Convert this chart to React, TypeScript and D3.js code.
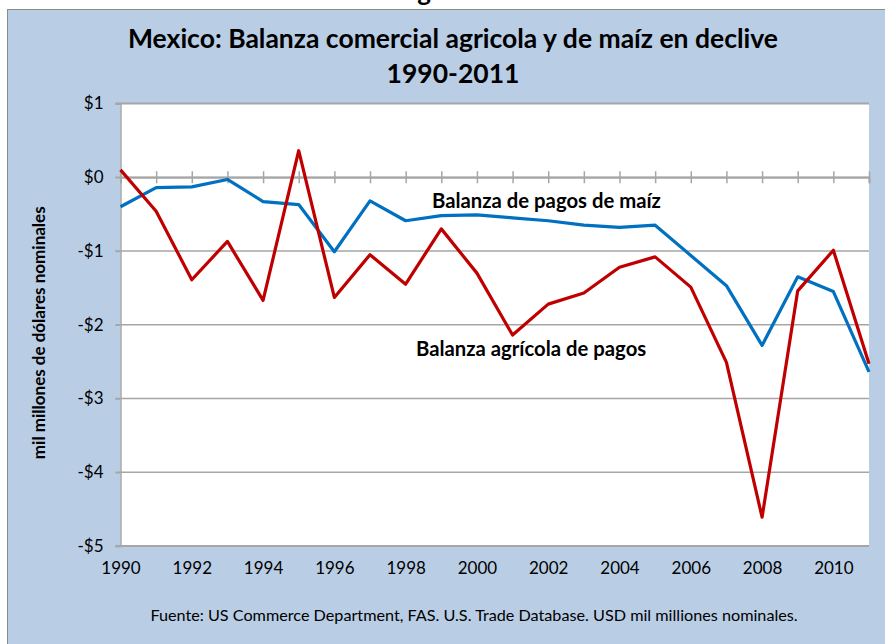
import { useEffect, useRef } from 'react'
import * as d3 from 'd3'

const YEARS = [
  1990, 1991, 1992, 1993, 1994, 1995, 1996, 1997, 1998, 1999, 2000,
  2001, 2002, 2003, 2004, 2005, 2006, 2007, 2008, 2009, 2010, 2011,
]

// balanza de pagos de maíz (mil millones USD)
const MAIZ_BALANCE = [
  -0.4, -0.14, -0.13, -0.03, -0.33, -0.37, -1.01, -0.32, -0.59, -0.52, -0.51,
  -0.55, -0.59, -0.65, -0.68, -0.65, -1.06, -1.47, -2.28, -1.35, -1.55, -2.64,
]

// balanza agrícola de pagos
const AGRI_BALANCE = [
  0.1, -0.46, -1.39, -0.87, -1.67, 0.36, -1.63, -1.05, -1.45, -0.7, -1.3,
  -2.14, -1.72, -1.57, -1.22, -1.08, -1.49, -2.51, -4.61, -1.54, -0.99, -2.53,
]

const Y_TICKS = [1, 0, -1, -2, -3, -4, -5]
const X_LABELS = [1990, 1992, 1994, 1996, 1998, 2000, 2002, 2004, 2006, 2008, 2010]

const WIDTH = 885
const HEIGHT = 644
const PLOT = { left: 120.5, right: 869, top: 103.5, bottom: 546 }
const FONT = 'Lato, "Open Sans", sans-serif'

interface Point {
  year: number
  value: number
}

export default function App() {
  const svgRef = useRef<SVGSVGElement | null>(null)

  useEffect(() => {
    if (!svgRef.current) {
      return
    }

    const svg = d3.select(svgRef.current)
    svg.selectAll('*').remove()

    const x = d3.scaleLinear().domain([1990, 2011]).range([PLOT.left, PLOT.right])
    const y = d3.scaleLinear().domain([-5, 1]).range([PLOT.bottom, PLOT.top])
    const fmt = (v: number) => (v < 0 ? `-$${-v}` : `$${v}`)

    svg.append('rect').attr('width', WIDTH).attr('height', HEIGHT).attr('fill', '#ffffff')

    // cut-off heading glyph above the chart frame (as in the source image)
    svg
      .append('text')
      .attr('x', 424)
      .attr('y', 1)
      .attr('text-anchor', 'middle')
      .attr('font-family', FONT)
      .attr('font-weight', 700)
      .attr('font-size', 26)
      .attr('fill', '#000')
      .text('g')

    svg
      .append('rect')
      .attr('x', 7.5)
      .attr('y', 9.5)
      .attr('width', WIDTH + 20)
      .attr('height', HEIGHT + 20)
      .attr('fill', '#b9cde5')
      .attr('stroke', '#8a8a8a')
      .attr('stroke-width', 1)

    svg
      .append('rect')
      .attr('x', PLOT.left)
      .attr('y', PLOT.top)
      .attr('width', PLOT.right - PLOT.left)
      .attr('height', PLOT.bottom - PLOT.top)
      .attr('fill', '#ffffff')

    // title
    const title = svg
      .append('text')
      .attr('text-anchor', 'middle')
      .attr('font-family', FONT)
      .attr('font-weight', 700)
      .attr('font-size', 26.5)
      .attr('fill', '#000')
    title.append('tspan').attr('x', 453).attr('y', 48).text('Mexico: Balanza comercial agricola y de maíz en declive')
    title.append('tspan').attr('x', 453).attr('y', 83).text('1990-2011')

    // gridlines
    svg
      .append('g')
      .selectAll('line')
      .data(Y_TICKS)
      .enter()
      .append('line')
      .attr('x1', PLOT.left - 5)
      .attr('x2', PLOT.right)
      .attr('y1', (d: number) => y(d))
      .attr('y2', (d: number) => y(d))
      .attr('stroke', '#a6a6a6')
      .attr('stroke-width', (d: number) => (d === 1 || d === -5 ? 2 : 1.5))

    // y axis
    const yAxis = svg
      .append('g')
      .attr('transform', `translate(${PLOT.left},0)`)
      .call(d3.axisLeft(y).tickValues(Y_TICKS).tickFormat((d) => fmt(d as number)).tickSize(5).tickPadding(12))
    yAxis.select('.domain').attr('stroke', '#a6a6a6').attr('stroke-width', 1.5)
    yAxis.selectAll('.tick line').attr('stroke', '#a6a6a6').attr('stroke-width', 1.5)
    yAxis
      .selectAll('.tick text')
      .attr('font-family', FONT)
      .attr('font-size', 17)
      .attr('fill', '#000')

    // x axis at zero with crossing ticks
    const zeroAxis = svg
      .append('g')
      .attr('transform', `translate(0,${y(0)})`)
      .call(d3.axisBottom(x).tickValues(YEARS).tickSize(6).tickFormat(() => ''))
    zeroAxis.select('.domain').attr('stroke', '#a6a6a6').attr('stroke-width', 2)
    zeroAxis
      .selectAll('.tick line')
      .attr('y1', -6)
      .attr('stroke', '#a6a6a6')
      .attr('stroke-width', 1.5)

    // x labels at the low position
    const xLabels = svg
      .append('g')
      .attr('transform', `translate(0,${PLOT.bottom})`)
      .call(d3.axisBottom(x).tickValues(X_LABELS).tickFormat(d3.format('d')).tickSize(0).tickPadding(16))
    xLabels.select('.domain').remove()
    xLabels
      .selectAll('.tick text')
      .attr('font-family', FONT)
      .attr('font-size', 17)
      .attr('fill', '#000')

    // y axis title
    svg
      .append('text')
      .attr('transform', `translate(45,${(PLOT.top + PLOT.bottom) / 2 + 8}) rotate(-90)`)
      .attr('text-anchor', 'middle')
      .attr('font-family', FONT)
      .attr('font-weight', 700)
      .attr('font-size', 17)
      .attr('fill', '#000')
      .text('mil millones de dólares nominales')

    const line = d3
      .line<Point>()
      .x((d) => x(d.year))
      .y((d) => y(d.value))

    const maiz: Point[] = YEARS.map((year, i) => ({ year, value: MAIZ_BALANCE[i] }))
    const agri: Point[] = YEARS.map((year, i) => ({ year, value: AGRI_BALANCE[i] }))

    svg
      .append('path')
      .datum(maiz)
      .attr('d', line)
      .attr('fill', 'none')
      .attr('stroke', '#0070c0')
      .attr('stroke-width', 3.2)
      .attr('stroke-linejoin', 'round')

    svg
      .append('path')
      .datum(agri)
      .attr('d', line)
      .attr('fill', 'none')
      .attr('stroke', '#c00000')
      .attr('stroke-width', 3.2)
      .attr('stroke-linejoin', 'round')

    // series annotations
    svg
      .append('text')
      .attr('x', 432)
      .attr('y', 208)
      .attr('font-family', FONT)
      .attr('font-weight', 700)
      .attr('font-size', 20.3)
      .attr('fill', '#000')
      .text('Balanza de pagos de maíz')

    svg
      .append('text')
      .attr('x', 416)
      .attr('y', 356)
      .attr('font-family', FONT)
      .attr('font-weight', 700)
      .attr('font-size', 20.3)
      .attr('fill', '#000')
      .text('Balanza agrícola de pagos')

    // source note
    svg
      .append('text')
      .attr('x', 474)
      .attr('y', 621)
      .attr('text-anchor', 'middle')
      .attr('font-family', FONT)
      .attr('font-size', 16.2)
      .attr('fill', '#000')
      .text('Fuente:  US Commerce Department, FAS. U.S. Trade Database. USD mil milliones nominales.')
  }, [])

  return (
    <svg
      ref={svgRef}
      width={WIDTH}
      height={HEIGHT}
      style={{ position: 'absolute', left: 0, top: 0 }}
      role="img"
      aria-label="Mexico: Balanza comercial agricola y de maíz en declive 1990-2011"
    />
  )
}
